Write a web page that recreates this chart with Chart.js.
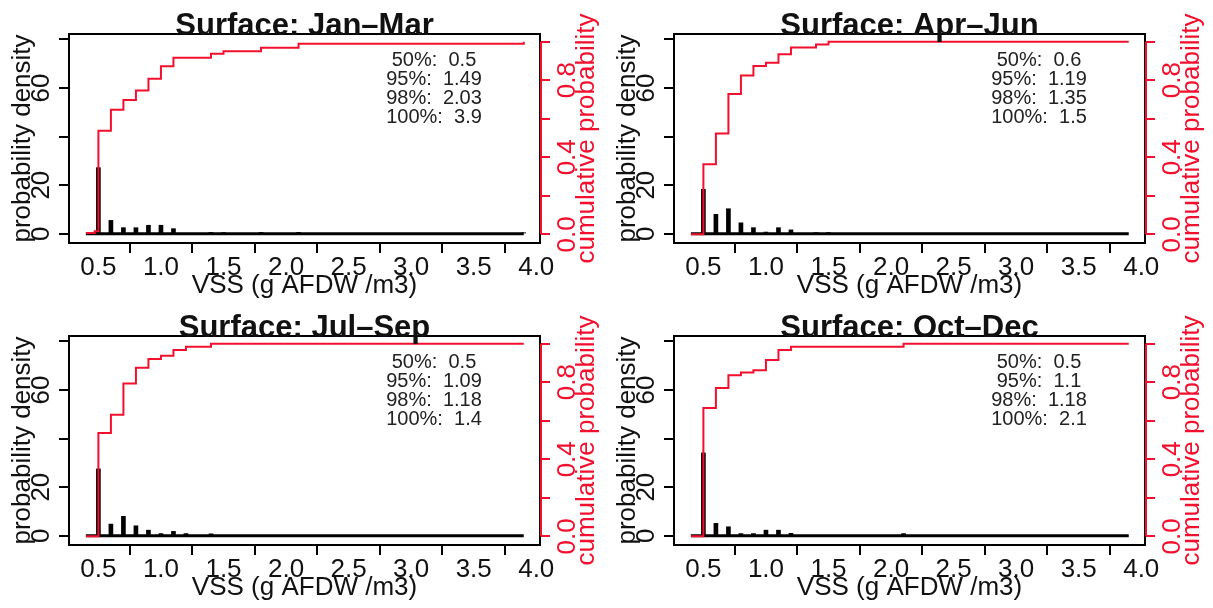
<!DOCTYPE html>
<html lang="en">
<head>
<meta charset="UTF-8">
<title>VSS surface distributions</title>
<script src="https://cdn.jsdelivr.net/npm/chart.js"></script>
<style>
  body { margin:0; background:#fff; width:1213px; height:608px; position:relative; overflow:hidden; }
  .cell { position:absolute; width:606px; height:304px; }
</style>
</head>
<body>
<div class="cell" style="left:0;top:0"><canvas id="c0" width="606" height="304"></canvas></div>
<div class="cell" style="left:605px;top:0"><canvas id="c1" width="606" height="304"></canvas></div>
<div class="cell" style="left:0;top:302px"><canvas id="c2" width="606" height="304"></canvas></div>
<div class="cell" style="left:605px;top:302px"><canvas id="c3" width="606" height="304"></canvas></div>
<script>
// axis ticks (labels left blank where the original dropped them)
const xTickVals = [0.5, 1.0, 1.5, 2.0, 2.5, 3.0, 3.5, 4.0];
const xTickLabels = ['0.5', '1.0', '1.5', '2.0', '2.5', '3.0', '3.5', '4.0'];
const densTickVals = [0, 20, 40, 60, 80];
const densTickLabels = ['0', '20', '', '60', ''];
const cumTickVals = [0, 0.2, 0.4, 0.6, 0.8, 1.0];
const cumTickLabels = ['0.0', '', '0.4', '', '0.8', ''];
const dataRange = [0.4, 3.9];

const titles = ['Surface: Jan–Mar', 'Surface: Apr–Jun', 'Surface: Jul–Sep', 'Surface: Oct–Dec'];

// Jan-Mar
const janMarBinX = [0.5, 0.6, 0.7, 0.8, 0.9, 1.0, 1.1, 1.4, 1.5, 1.8, 2.1, 3.9];
const janMarDensity = [27.2, 5.5, 2.5, 2.5, 3.5, 3.5, 2.1, 0.6, 0.5, 0.6, 0.6, 0.3];
const janMarCumX = [0.4, 0.47, 0.5, 0.6, 0.7, 0.8, 0.9, 1.0, 1.1, 1.4, 1.5, 1.8, 2.1, 3.9];
const janMarCumP = [0.007, 0.016, 0.538, 0.647, 0.698, 0.747, 0.808, 0.872, 0.917, 0.938, 0.950, 0.968, 0.990, 1.0];
const janMarQuant = ['50%:  0.5', '95%:  1.49', '98%:  2.03', '100%:  3.9'];

// Apr-Jun
const aprJunBinX = [0.5, 0.6, 0.7, 0.8, 0.9, 1.0, 1.1, 1.2, 1.4, 1.5];
const aprJunDensity = [18.3, 8.0, 10.3, 4.5, 2.5, 0.7, 2.5, 1.6, 0.5, 0.5];
const aprJunCumX = [0.4, 0.5, 0.6, 0.7, 0.8, 0.9, 1.0, 1.1, 1.2, 1.4, 1.5, 3.9];
const aprJunCumP = [0, 0.364, 0.524, 0.729, 0.825, 0.874, 0.891, 0.935, 0.970, 0.985, 1.0, 1.0];
const aprJunQuant = ['50%:  0.6', '95%:  1.19', '98%:  1.35', '100%:  1.5'];

// Jul-Sep
const julSepBinX = [0.5, 0.6, 0.7, 0.8, 0.9, 1.0, 1.1, 1.2, 1.4];
const julSepDensity = [27.5, 4.8, 8.0, 4.1, 2.3, 0.9, 1.8, 0.9, 0.8];
const julSepCumX = [0.4, 0.5, 0.6, 0.7, 0.8, 0.9, 1.0, 1.1, 1.2, 1.4, 3.9];
const julSepCumP = [0, 0.537, 0.631, 0.793, 0.875, 0.920, 0.937, 0.967, 0.984, 1.0, 1.0];
const julSepQuant = ['50%:  0.5', '95%:  1.09', '98%:  1.18', '100%:  1.4'];

// Oct-Dec
const octDecBinX = [0.5, 0.6, 0.7, 0.8, 0.9, 1.0, 1.1, 1.2, 2.1];
const octDecDensity = [34.1, 5.1, 3.7, 0.9, 0.9, 2.3, 2.3, 1.0, 0.9];
const octDecCumX = [0.4, 0.5, 0.6, 0.7, 0.8, 0.9, 1.0, 1.1, 1.2, 2.1, 3.9];
const octDecCumP = [0, 0.666, 0.770, 0.836, 0.850, 0.862, 0.915, 0.967, 0.984, 1.0, 1.0];
const octDecQuant = ['50%:  0.5', '95%:  1.1', '98%:  1.18', '100%:  2.1'];

const RED = '#f2102e';
const INK = '#111';
const FONT = "'Liberation Sans', Arial, sans-serif";

const panels = [
  { title: titles[0], binX: janMarBinX, dens: janMarDensity, cumX: janMarCumX, cumP: janMarCumP, quant: janMarQuant },
  { title: titles[1], binX: aprJunBinX, dens: aprJunDensity, cumX: aprJunCumX, cumP: aprJunCumP, quant: aprJunQuant },
  { title: titles[2], binX: julSepBinX, dens: julSepDensity, cumX: julSepCumX, cumP: julSepCumP, quant: julSepQuant },
  { title: titles[3], binX: octDecBinX, dens: octDecDensity, cumX: octDecCumX, cumP: octDecCumP, quant: octDecQuant }
];

function vtext(ctx, s, x, y) {
  ctx.save(); ctx.translate(x, y); ctx.rotate(-Math.PI / 2); ctx.fillText(s, 0, 0); ctx.restore();
}

// R base-graphics look: box, rotated y labels, titles, quantile text
function rLook(p) {
  return {
    id: 'rlook',
    afterDraw(chart) {
      const { ctx, chartArea: a, scales: { x, y, y2 } } = chart;
      ctx.save();
      ctx.strokeStyle = '#000'; ctx.lineWidth = 2;
      ctx.strokeRect(a.left, a.top, a.right - a.left, a.bottom - a.top);
      ctx.strokeStyle = RED;
      ctx.beginPath();
      ctx.moveTo(a.right + 1, y2.getPixelForValue(0));
      ctx.lineTo(a.right + 1, y2.getPixelForValue(1));
      ctx.stroke();

      ctx.textAlign = 'center'; ctx.textBaseline = 'middle';
      ctx.font = '26px ' + FONT; ctx.fillStyle = INK;
      xTickVals.forEach((v, i) => ctx.fillText(xTickLabels[i], x.getPixelForValue(v), a.bottom + 25));
      densTickVals.forEach((v, i) => { if (densTickLabels[i]) vtext(ctx, densTickLabels[i], a.left - 27, y.getPixelForValue(v)); });
      ctx.fillText('VSS (g AFDW /m3)', (a.left + a.right) / 2, a.bottom + 43);
      vtext(ctx, 'probability density', a.left - 46, (a.top + a.bottom) / 2);

      ctx.fillStyle = RED;
      cumTickVals.forEach((v, i) => { if (cumTickLabels[i]) vtext(ctx, cumTickLabels[i], a.right + 28, y2.getPixelForValue(v)); });
      vtext(ctx, 'cumulative probability', a.right + 47, (a.top + a.bottom) / 2);

      ctx.fillStyle = '#222'; ctx.font = '20px ' + FONT;
      p.quant.forEach((s, i) => ctx.fillText(s, a.left + 365, a.top + 26 + i * 19));

      ctx.fillStyle = INK; ctx.font = 'bold 31px ' + FONT; ctx.textBaseline = 'alphabetic';
      ctx.fillText(p.title, (a.left + a.right) / 2, a.top + 1);
      ctx.restore();
    }
  };
}

function tickGrid(color) {
  return { drawOnChartArea: false, drawTicks: true, tickLength: 10, color: color, lineWidth: 2 };
}

panels.forEach((p, k) => {
  new Chart(document.getElementById('c' + k), {
    type: 'bar',
    data: {
      datasets: [
        { type: 'line', data: p.cumX.map((v, i) => ({ x: v, y: p.cumP[i] })), yAxisID: 'y2',
          borderColor: RED, borderWidth: 2, stepped: 'before', pointRadius: 0, fill: false, order: 0 },
        { type: 'bar', data: p.binX.map((v, i) => ({ x: v, y: p.dens[i] })), yAxisID: 'y',
          backgroundColor: '#000', barThickness: 4, order: 1 },
        { type: 'line', data: dataRange.map(v => ({ x: v, y: 0 })), yAxisID: 'y',
          borderColor: '#000', borderWidth: 3, pointRadius: 0, fill: false, order: 2 }
      ]
    },
    options: {
      responsive: false, animation: false, devicePixelRatio: 1,
      layout: { padding: { top: 34 } },
      plugins: { legend: { display: false }, tooltip: { enabled: false } },
      scales: {
        x: { type: 'linear', min: 0.265, max: 4.03, offset: false,
             afterFit: s => { s.height = 61; },
             afterBuildTicks: s => { s.ticks = xTickVals.map(v => ({ value: v })); },
             ticks: { display: false }, grid: tickGrid('#000'), border: { display: false } },
        y: { position: 'left', min: -3.8, max: 82.2,
             afterFit: s => { s.width = 69; },
             afterBuildTicks: s => { s.ticks = densTickVals.map(v => ({ value: v })); },
             ticks: { display: false }, grid: tickGrid('#000'), border: { display: false } },
        y2: { position: 'right', min: -0.045, max: 1.04,
             afterFit: s => { s.width = 66; },
             afterBuildTicks: s => { s.ticks = cumTickVals.map(v => ({ value: v })); },
             ticks: { display: false }, grid: tickGrid(RED), border: { display: false } }
      }
    },
    plugins: [rLook(p)]
  });
});
</script>
</body>
</html>
